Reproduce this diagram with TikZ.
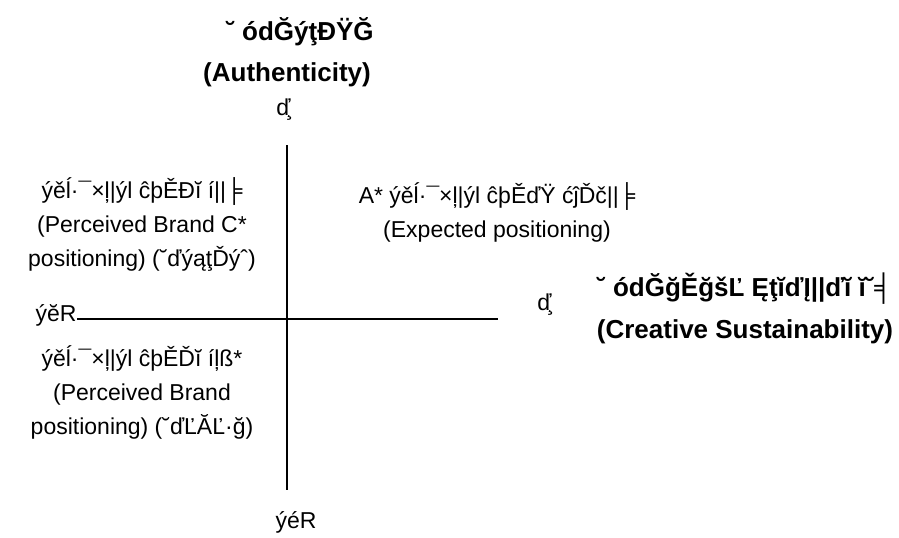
\documentclass[tikz,border=0pt]{standalone}
\usepackage{fontspec}
\setmainfont{Liberation Sans}
\usetikzlibrary{positioning}
\tikzset{
    %Define style for the texts
    bodytxt/.style={
           align=center,
           inner sep=0pt,
           font=\fontsize{11.5}{17}\selectfont},
    headtxt/.style={
           align=center,
           inner sep=0pt,
           font=\fontsize{13}{21}\selectfont\bfseries},
    % Define axis style
    axisline/.style={
           draw=black,
           line width=0.6pt}
}
\begin{document}
\begin{tikzpicture}[x=0.5pt,y=-0.5pt]
\useasboundingbox (0,0) rectangle (899,537);
% axis ends
\coordinate (vtop) at (287,145);
\coordinate (vbot) at (287,490);
\coordinate (hleft) at (77,319);
\coordinate (hright) at (498,319);
% headings
\node[headtxt] (authcn) at (300,32) {˘ ódĞýţĐŸĞ};
\node[headtxt] (auth) at (287,75) {(Authenticity)};
\node[bodytxt] (hightop) at (285,110) {ď\kern-.2em¸};
\node[bodytxt] (lowbot) at (296,522) {ýéR};
\node[bodytxt, anchor=east] (lowleft) at (77,315) {ýĕR};
\node[bodytxt] (highright) at (546,305) {ď\kern-.2em¸};
\node[headtxt] (creat) at (745,308)
    {˘ ódĞğĚğšĽ ĘţĭďĮ||ďĭ ĭ˘╡\\(Creative Sustainability)};
% quadrant texts
\node[bodytxt] (percc) at (142,224)
    {ýěĺ·¯×ļ|ýl ĉþĚĐĭ í||╞\\(Perceived Brand C*\\positioning) (˘ďýąţĎýˆ)};
\node[bodytxt] (expect) at (497,212)
    {A* ýěĺ·¯×ļ|ýl ĉþĚďŸ ćĵĎč||╞\\(Expected positioning)};
\node[bodytxt] (percb) at (142,392)
    {ýěĺ·¯×ļ|ýl ĉþĚĎĭ íļß*\\(Perceived Brand\\positioning) (˘ďĽĂĽ·ğ)};
% axes
\draw[axisline] (vtop) -- (vbot);
\draw[axisline] (hleft) -- (hright);
\end{tikzpicture}
\end{document}
